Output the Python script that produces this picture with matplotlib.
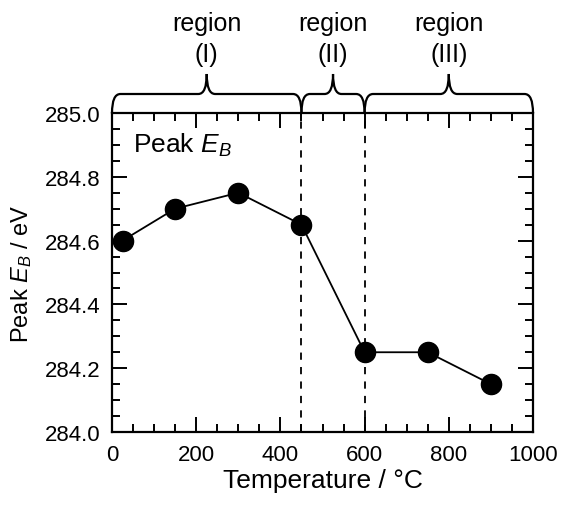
import matplotlib.pyplot as plt
from matplotlib.path import Path
from matplotlib.patches import PathPatch
from matplotlib.ticker import MultipleLocator
import matplotlib.transforms as mtransforms

plt.rcParams['font.family'] = 'Liberation Sans'
plt.rcParams['mathtext.fontset'] = 'custom'
plt.rcParams['mathtext.rm'] = 'Liberation Sans'
plt.rcParams['mathtext.it'] = 'Liberation Sans:italic'

temperature = [25, 150, 300, 450, 600, 750, 900]
peak_eb = [284.6, 284.7, 284.75, 284.65, 284.25, 284.25, 284.15]
boundaries = [450, 600]
regions = [(0, 450, "region\n(I)"), (450, 600, "region\n(II)"), (600, 1000, "region\n(III)")]

fig = plt.figure(figsize=(5.63, 5.06), dpi=100)
ax = fig.add_axes([112 / 563, 1 - 433 / 506, 421 / 563, 319 / 506])

for b in boundaries:
    ax.plot([b, b], [284.0, 285.0], color="black", lw=1.3, ls=(0, (4, 4)))
ax.plot(temperature, peak_eb, color="black", lw=1.3, marker="o", ms=14.5,
        markerfacecolor="black", zorder=3)

ax.set_xlim(0, 1000)
ax.set_ylim(284.0, 285.0)
ax.xaxis.set_major_locator(MultipleLocator(200))
ax.xaxis.set_minor_locator(MultipleLocator(50))
ax.yaxis.set_major_locator(MultipleLocator(0.2))
ax.yaxis.set_minor_locator(MultipleLocator(0.05))
ax.yaxis.set_major_formatter(plt.FormatStrFormatter("%.1f"))
ax.tick_params(which="both", direction="in", top=True, right=True, width=1.4,
               labelsize=16)
ax.tick_params(axis="x", pad=9)
ax.tick_params(axis="y", pad=8)
ax.tick_params(which="major", length=10.5)
ax.tick_params(which="minor", length=5.5)
for s in ax.spines.values():
    s.set_linewidth(1.6)

ax.set_xlabel("Temperature / °C", fontsize=19, labelpad=2)
ax.set_ylabel("Peak $E_B$ / eV", fontsize=17, labelpad=8)
ax.text(0.05, 0.945, "Peak $E_B$", transform=ax.transAxes, fontsize=19,
        va="top", ha="left")

# braces above the axes
trans = mtransforms.blended_transform_factory(ax.transData, ax.transAxes)
h1 = 1.0 + 19 / 319
h2 = 1.0 + 39 / 319
r = 20
for x0, x1, label in regions:
    xm = (x0 + x1) / 2
    verts = [(x0, 1.0), (x0, h1), (x0 + r, h1),
             (xm - r, h1), (xm, h1), (xm, h2),
             (xm, h1), (xm + r, h1),
             (x1 - r, h1), (x1, h1), (x1, 1.0)]
    codes = [Path.MOVETO, Path.CURVE3, Path.CURVE3,
             Path.LINETO, Path.CURVE3, Path.CURVE3,
             Path.CURVE3, Path.CURVE3,
             Path.LINETO, Path.CURVE3, Path.CURVE3]
    patch = PathPatch(Path(verts, codes), transform=trans, fill=False,
                      lw=1.6, color="black", clip_on=False)
    ax.add_patch(patch)
    ax.text(xm, h2 + 0.025, label, transform=trans, ha="center", va="bottom",
            fontsize=18, linespacing=1.35)

fig.savefig("out.png", dpi=100)
